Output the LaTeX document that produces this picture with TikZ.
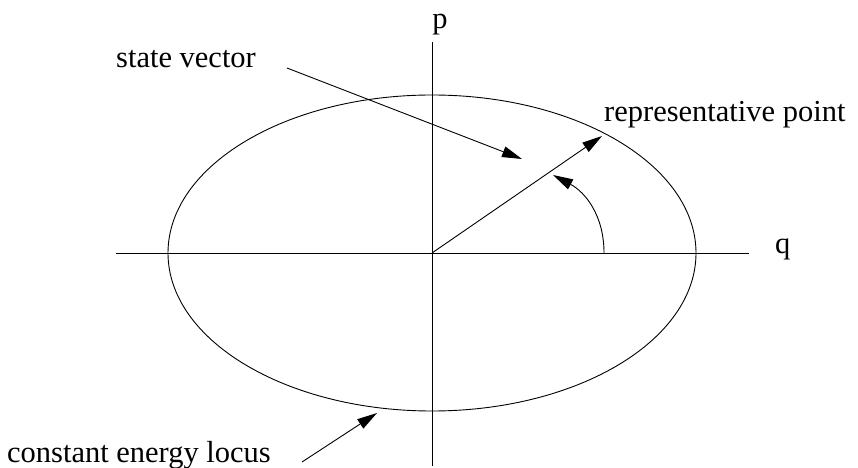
\documentclass[tikz,border=0pt]{standalone}
\usepackage{fontspec}
\setmainfont{Liberation Serif}
\usetikzlibrary{arrows.meta}
\begin{document}
\begin{tikzpicture}[x=1bp,y=-1bp,
  lbl/.style={inner sep=0pt, font=\fontsize{30.6}{36}\selectfont},
  thin line/.style={line width=0.9bp, black},
  arr/.style={thin line, -{Triangle[length=20bp,width=11bp]}}]
\useasboundingbox (0,0) rectangle (858,468);
% axes
\coordinate (O) at (432,253);
\coordinate (xl) at (116,253);
\coordinate (xr) at (749,253);
\coordinate (yt) at (432,42);
\coordinate (yb) at (432,466);
\draw[thin line] (xl) -- (xr);
\draw[thin line] (yt) -- (yb);
% ellipse
\draw[thin line] (O) ellipse [x radius=264, y radius=158];
% labels
\node[lbl, anchor=base] (p) at (440,28.5) {p};
\node[lbl, anchor=base west] (q) at (775,254) {q};
\node[lbl, anchor=base west] (sv) at (116,68) {state vector};
\node[lbl, anchor=base west] (rp) at (604,122) {representative point};
\node[lbl, anchor=base west] (cel) at (7,462) {constant energy locus};
% state vector arrow
\coordinate (svs) at (287,68);
\coordinate (sve) at (522,159);
\draw[arr] (svs) -- (sve);
% representative vector
\coordinate (rpt) at (602,136);
\draw[arr] (O) -- (rpt);
% angle arc
\coordinate (as) at (604,253);
\coordinate (ae) at (553,175);
\draw[arr] (as) .. controls (604,215) and (585,192) .. (ae);
% locus arrow
\coordinate (ls) at (302,462);
\coordinate (le) at (377,413);
\draw[arr] (ls) -- (le);
\end{tikzpicture}
\end{document}
